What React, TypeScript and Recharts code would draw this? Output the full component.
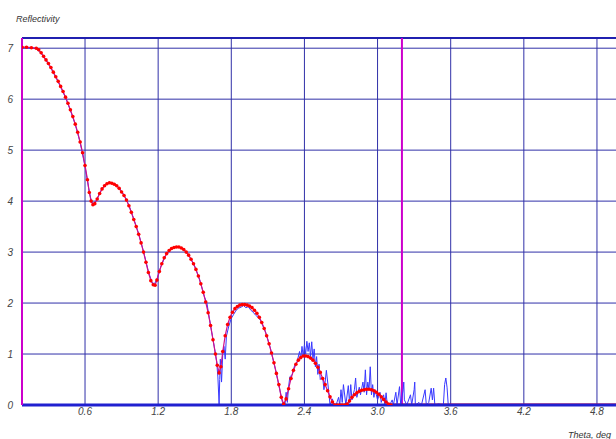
import React from "react";
import { LineChart, Line, XAxis, YAxis, CartesianGrid, ReferenceLine } from "recharts";

// Fitted reflectivity curve (red)
const fitTheta = [
  0.083, 0.12, 0.16, 0.2, 0.22, 0.24, 0.26, 0.28, 0.3, 0.32, 0.34, 0.36, 0.38, 0.4, 0.42, 0.44, 0.46, 0.48, 0.5,
  0.52, 0.54, 0.56, 0.58, 0.6, 0.62, 0.635, 0.65, 0.665, 0.68, 0.7, 0.72, 0.74, 0.76, 0.78, 0.8, 0.82, 0.84, 0.86,
  0.88, 0.9, 0.92, 0.94, 0.96, 0.98, 1.0, 1.02, 1.04, 1.06, 1.08, 1.1, 1.12, 1.14, 1.16, 1.175, 1.19, 1.21, 1.23,
  1.25, 1.27, 1.29, 1.31, 1.33, 1.35, 1.37, 1.39, 1.41, 1.43, 1.45, 1.47, 1.49, 1.51, 1.53, 1.55, 1.57, 1.59, 1.61,
  1.63, 1.65, 1.67, 1.685, 1.7, 1.715, 1.73, 1.75, 1.77, 1.79, 1.81, 1.83, 1.85, 1.87, 1.89, 1.91, 1.93, 1.95, 1.97,
  1.99, 2.01, 2.03, 2.05, 2.07, 2.09, 2.11, 2.13, 2.15, 2.17, 2.19, 2.21, 2.23, 2.25, 2.27, 2.29, 2.31, 2.33, 2.35,
  2.37, 2.39, 2.41, 2.43, 2.45, 2.47, 2.49, 2.51, 2.53, 2.55, 2.57, 2.59, 2.61, 2.63, 2.65, 2.67, 2.69, 2.71, 2.73,
  2.75, 2.77, 2.79, 2.81, 2.83, 2.85, 2.87, 2.89, 2.91, 2.93, 2.95, 2.97, 2.99, 3.01, 3.03, 3.05, 3.07, 3.09, 3.11,
];
const fitRefl = [
  7.02, 7.02, 7.01, 7.0, 6.97, 6.91, 6.84, 6.77, 6.7, 6.62, 6.53, 6.44, 6.35, 6.25, 6.15, 6.04, 5.92, 5.79, 5.66,
  5.51, 5.35, 5.16, 4.95, 4.7, 4.42, 4.17, 4.0, 3.93, 3.95, 4.04, 4.15, 4.24, 4.3, 4.34, 4.36, 4.35, 4.33, 4.3,
  4.25, 4.18, 4.11, 4.02, 3.91, 3.78, 3.64, 3.5, 3.35, 3.18, 3.0, 2.8, 2.6, 2.44, 2.36, 2.35, 2.45, 2.62, 2.77,
  2.89, 2.97, 3.03, 3.07, 3.09, 3.1, 3.1, 3.08, 3.05, 3.0, 2.94, 2.86, 2.77, 2.66, 2.53, 2.38, 2.21, 2.02, 1.81,
  1.56, 1.28, 1.0, 0.78, 0.63, 0.75, 1.05, 1.36, 1.58, 1.72, 1.82, 1.89, 1.93, 1.96, 1.97, 1.97, 1.96, 1.94, 1.91,
  1.86, 1.8, 1.72, 1.62, 1.5, 1.36, 1.2, 1.02, 0.83, 0.62, 0.4, 0.15, 0.02, 0.12, 0.32, 0.52, 0.68, 0.8, 0.88,
  0.93, 0.96, 0.96, 0.95, 0.92, 0.88, 0.82, 0.74, 0.64, 0.52, 0.4, 0.28, 0.16, 0.06, 0.0, 0.0, 0.0, 0.0, 0.0,
  0.02, 0.08, 0.15, 0.2, 0.24, 0.27, 0.29, 0.3, 0.31, 0.31, 0.3, 0.28, 0.25, 0.21, 0.16, 0.11, 0.06, 0.02, 0.0,
];

// Flat tail of the fit (zero reflectivity)
const tailTheta = [3.11, 5.03];
const tailRefl = [0, 0];

// Measured data (blue)
const measTheta = [
  0.083, 0.12, 0.16, 0.2, 0.24, 0.28, 0.32, 0.36, 0.4, 0.44, 0.48, 0.52, 0.56, 0.6, 0.63, 0.65, 0.665, 0.69, 0.72,
  0.76, 0.8, 0.84, 0.88, 0.92, 0.96, 1.0, 1.04, 1.08, 1.12, 1.15, 1.17, 1.19, 1.22, 1.26, 1.3, 1.34, 1.38, 1.42,
  1.46, 1.5, 1.54, 1.58, 1.6, 1.62, 1.64, 1.66, 1.68, 1.69, 1.7, 1.705, 1.71, 1.72, 1.73, 1.74, 1.75, 1.76, 1.78,
  1.8, 1.82, 1.84, 1.86, 1.88, 1.9, 1.92, 1.94, 1.96, 1.98, 2.0, 2.02, 2.04, 2.06, 2.08, 2.1, 2.12, 2.14, 2.16,
  2.18, 2.2, 2.22, 2.24, 2.25, 2.26, 2.27, 2.28, 2.3, 2.32, 2.34, 2.36, 2.37, 2.38, 2.39, 2.4, 2.41, 2.42, 2.43,
  2.44, 2.45, 2.46, 2.47, 2.48, 2.49, 2.5, 2.51, 2.52, 2.53, 2.55, 2.56, 2.57, 2.58, 2.6, 2.61, 2.63, 2.64, 2.66,
  2.68, 2.69, 2.7, 2.71, 2.72, 2.74, 2.76, 2.77, 2.78, 2.79, 2.81, 2.82, 2.83, 2.85, 2.86, 2.88, 2.89, 2.9, 2.91,
  2.92, 2.93, 2.94, 2.95, 2.96, 2.97, 2.98, 3.0, 3.02, 3.03, 3.05, 3.06, 3.07, 3.08, 3.1, 3.12, 3.13, 3.15, 3.16,
  3.18, 3.19, 3.21, 3.215, 3.22, 3.24, 3.27, 3.28, 3.3, 3.305, 3.31, 3.34, 3.36, 3.39, 3.4, 3.42, 3.44, 3.45, 3.46,
  3.47, 3.5, 3.54, 3.55, 3.56, 3.57, 3.58, 3.6,
];
const measRefl = [
  7.0, 7.0, 7.0, 6.99, 6.9, 6.76, 6.61, 6.43, 6.24, 6.03, 5.78, 5.5, 5.15, 4.68, 4.25, 4.02, 3.95, 4.0, 4.16,
  4.31, 4.37, 4.34, 4.26, 4.12, 3.92, 3.65, 3.36, 3.01, 2.62, 2.4, 2.38, 2.47, 2.7, 2.93, 3.05, 3.1, 3.09, 3.03,
  2.9, 2.72, 2.46, 2.12, 2.0, 1.7, 1.42, 1.15, 0.85, 0.55, 0.02, 0.5, 0.9, 0.45, 1.0, 1.15, 0.9, 1.35, 1.55,
  1.7, 1.78, 1.86, 1.9, 1.92, 1.95, 1.91, 1.93, 1.86, 1.82, 1.76, 1.72, 1.66, 1.55, 1.44, 1.28, 1.12, 0.92, 0.72,
  0.5, 0.28, 0.05, 0.0, 0.25, 0.05, 0.35, 0.55, 0.6, 0.78, 0.85, 1.05, 0.9, 1.15, 0.95, 1.18, 1.0, 1.25, 1.05,
  1.22, 0.95, 1.24, 0.9, 1.1, 0.75, 0.95, 0.6, 0.8, 0.5, 0.55, 0.3, 0.45, 0.68, 0.25, 0.0, 0.12, 0.0, 0.0,
  0.15, 0.0, 0.3, 0.05, 0.4, 0.0, 0.38, 0.05, 0.4, 0.1, 0.3, 0.53, 0.15, 0.35, 0.2, 0.45, 0.25, 0.69, 0.2,
  0.45, 0.3, 0.75, 0.2, 0.4, 0.15, 0.3, 0.1, 0.25, 0.05, 0.2, 0.0, 0.24, 0.0, 0.0, 0.1, 0.0, 0.25, 0.0,
  0.36, 0.0, 0.3, 0.45, 0.1, 0.0, 0.2, 0.0, 0.3, 0.45, 0.0, 0.05, 0.0, 0.3, 0.0, 0.05, 0.33, 0.1, 0.33,
  0.0, 0.02, 0.0, 0.4, 0.53, 0.35, 0.0, 0.0,
];

const xTicks = [0.6, 1.2, 1.8, 2.4, 3.0, 3.6, 4.2, 4.8];
const yTicks = [0, 1, 2, 3, 4, 5, 6, 7];
const markerTheta = 3.2;

const fitData = fitTheta.map((x, i) => ({ x, y: fitRefl[i] }));
const tailData = tailTheta.map((x, i) => ({ x, y: tailRefl[i] }));
const measData = measTheta.map((x, i) => ({ x, y: measRefl[i] }));

const FONT = '"Liberation Sans", Arial, sans-serif';
const tickStyle = { fill: "#444", fontSize: 10, fontStyle: "italic", fontFamily: FONT };

export default function App() {
  return (
    <div
      style={{
        position: "absolute",
        left: 0,
        top: 0,
        width: 616,
        height: 439,
        overflow: "hidden",
        background: "#fff",
        fontFamily: FONT,
      }}
    >
      <LineChart width={640} height={439} margin={{ top: 38, right: 15, bottom: 0, left: 0 }}>
        <CartesianGrid stroke="#3030a8" strokeWidth={1} />
        <XAxis
          type="number"
          dataKey="x"
          domain={[0.083, 5.03]}
          ticks={xTicks}
          allowDataOverflow
          height={34}
          tickSize={0}
          tickMargin={3}
          tick={tickStyle}
          axisLine={{ stroke: "#2020d0", strokeWidth: 3 }}
          tickFormatter={(v: number) => v.toFixed(1)}
        />
        <YAxis
          type="number"
          domain={[0, 7.2]}
          ticks={yTicks}
          allowDataOverflow
          width={22}
          tickSize={0}
          tickMargin={9}
          tick={tickStyle}
          axisLine={{ stroke: "#cc00cc", strokeWidth: 2 }}
        />
        <ReferenceLine y={7.2} stroke="#2020b0" strokeWidth={2} />
        <ReferenceLine x={markerTheta} stroke="#cc00cc" strokeWidth={2} />
        <Line
          data={tailData}
          dataKey="y"
          stroke="#ff0000"
          strokeWidth={3}
          dot={false}
          isAnimationActive={false}
        />
        <Line
          data={measData}
          dataKey="y"
          stroke="#3838ff"
          strokeWidth={1}
          dot={false}
          isAnimationActive={false}
        />
        <Line
          data={fitData}
          dataKey="y"
          stroke="#d0108a"
          strokeWidth={1.2}
          dot={{ r: 1.8, fill: "#ff0000", stroke: "none" }}
          isAnimationActive={false}
        />
      </LineChart>
      <div
        style={{
          position: "absolute",
          left: 16,
          top: 14,
          fontSize: 9,
          fontStyle: "italic",
          color: "#333",
        }}
      >
        Reflectivity
      </div>
      <div
        style={{
          position: "absolute",
          left: 568,
          top: 430,
          fontSize: 9,
          fontStyle: "italic",
          color: "#333",
          whiteSpace: "nowrap",
        }}
      >
        Theta, deg
      </div>
    </div>
  );
}
